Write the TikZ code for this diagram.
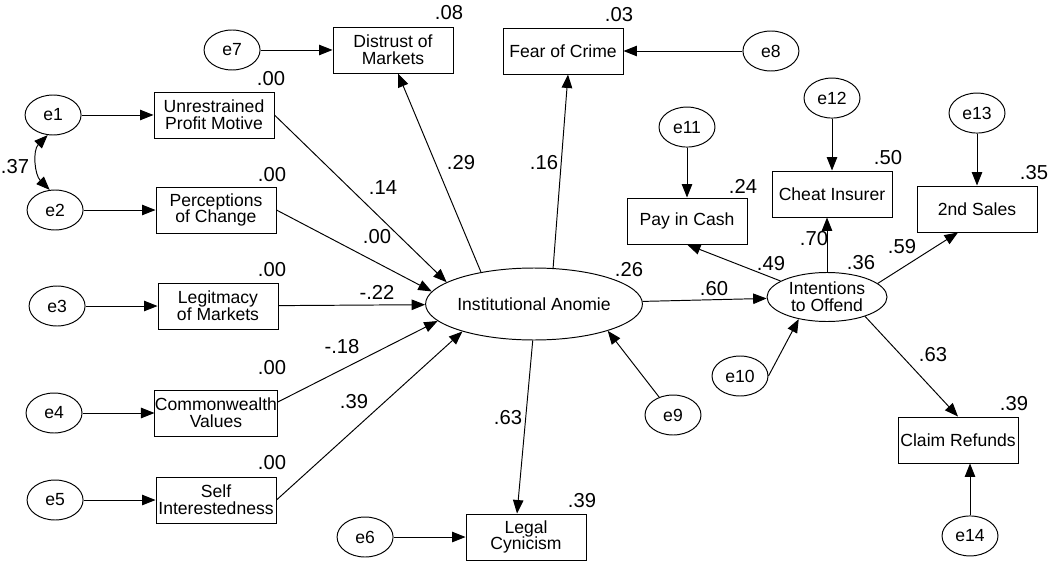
\documentclass[tikz,border=0pt]{standalone}
\usepackage{fontspec}
\setmainfont{Liberation Sans}
\usetikzlibrary{shapes.geometric, arrows.meta, positioning, calc}

\begin{document}
\begin{tikzpicture}[
        x=0.02cm, y=-0.02cm, line width=0.55pt,
        every node/.style={font=\fontsize{10}{9.5}\selectfont},
        obs/.style={rectangle, draw, minimum width=2.4cm, minimum height=0.92cm, align=center, inner xsep=0pt, inner ysep=1pt},
        lat/.style={ellipse, draw, align=center, inner sep=0pt},
        err/.style={ellipse, draw, minimum width=1.12cm, minimum height=0.8cm, inner sep=0pt},
        num/.style={font=\fontsize{11.5}{12}\selectfont, inner sep=0pt},
        arr/.style={-{Triangle[length=2.7mm, width=2.1mm]}},
        cov/.style={{Triangle[length=2.7mm, width=2.1mm]}-{Triangle[length=2.7mm, width=2.1mm]}}
    ]
        \useasboundingbox (0,0) rectangle (1053,564);

        \node[obs] (upm) at (214,115) {Unrestrained\\Profit Motive};
        \node[obs] (poc) at (216,210) {Perceptions\\of Change};
        \node[obs] (lom) at (218,306) {Legitmacy\\of Markets};
        \node[obs] (cwv) at (216,413) {Commonwealth\\Values};
        \node[obs] (sin) at (216,500) {Self\\Interestedness};
        \node[obs] (dom) at (393,50) {Distrust of\\Markets};
        \node[obs] (foc) at (563,51) {Fear of Crime};
        \node[obs] (lcy) at (526,537) {Legal\\Cynicism};
        \node[obs] (pic) at (687,221) {Pay in Cash};
        \node[obs] (chi) at (832,194) {Cheat Insurer};
        \node[obs] (snd) at (977,209) {2nd Sales};
        \node[obs] (clr) at (958,440) {Claim Refunds};

        \node[lat, minimum width=3.86cm, minimum height=1.44cm] (ia) at (534,304) {Institutional Anomie};
        \node[lat, minimum width=2.4cm, minimum height=0.98cm] (ito) at (827,297) {Intentions\\to Offend};

        \node[err, left=1.44cm of upm] (e1) {e1};
        \node[err, left=1.44cm of poc] (e2) {e2};
        \node[err, left=1.44cm of lom] (e3) {e3};
        \node[err, left=1.44cm of cwv] (e4) {e4};
        \node[err, left=1.44cm of sin] (e5) {e5};
        \node[err, left=1.44cm of lcy] (e6) {e6};
        \node[err, left=1.44cm of dom] (e7) {e7};
        \node[err, right=2.38cm of foc] (e8) {e8};
        \node[err] (e9) at (673,415) {e9};
        \node[err] (e10) at (740,376) {e10};
        \node[err, above=1cm of pic] (e11) {e11};
        \node[err, above=1.04cm of chi] (e12) {e12};
        \node[err, above=1.04cm of snd] (e13) {e13};
        \node[err, below=1.04cm of clr, xshift=0.24cm] (e14) {e14};

        \node[num] (r2upm) at (271,79) {.00};
        \node[num] (r2poc) at (272,175) {.00};
        \node[num] (r2lom) at (272,270) {.00};
        \node[num] (r2cwv) at (272,368) {.00};
        \node[num] (r2sin) at (272,463) {.00};
        \node[num] (r2dom) at (449,13) {.08};
        \node[num] (r2foc) at (619,15) {.03};
        \node[num] (r2lcy) at (582,501) {.39};
        \node[num] (r2pic) at (743,186) {.24};
        \node[num] (r2chi) at (888,158) {.50};
        \node[num] (r2snd) at (1034,173) {.35};
        \node[num] (r2clr) at (1014,404) {.39};
        \node[num] (r2ia) at (629,270) {.26};
        \node[num] (r2ito) at (861,263) {.36};

        \node[num] (bupm) at (383,188) {.14};
        \node[num] (bpoc) at (377,237) {.00};
        \node[num] (blom) at (377,292) {-.22};
        \node[num] (bcwv) at (342,347) {-.18};
        \node[num] (bsin) at (354,402) {.39};
        \node[num] (bdom) at (461,163) {.29};
        \node[num] (bfoc) at (544,163) {.16};
        \node[num] (blcy) at (508,418) {.63};
        \node[num] (bito) at (714,289) {.60};
        \node[num] (bpic) at (771,264) {.49};
        \node[num] (bchi) at (814,239) {.70};
        \node[num] (bsnd) at (902,247) {.59};
        \node[num] (bclr) at (933,355) {.63};
        \node[num] (ce12) at (15,167) {.37};

        \draw[arr] (e1) -- (e1 -| upm.west);
        \draw[arr] (e2) -- (e2 -| poc.west);
        \draw[arr] (e3) -- (e3 -| lom.west);
        \draw[arr] (e4) -- (e4 -| cwv.west);
        \draw[arr] (e5) -- (e5 -| sin.west);
        \draw[arr] (e6) -- (e6 -| lcy.west);
        \draw[arr] (e7) -- (e7 -| dom.west);
        \draw[arr] (e8) -- (e8 -| foc.east);
        \draw[arr] (e11) -- (e11 |- pic.north);
        \draw[arr] (e12) -- (e12 |- chi.north);
        \draw[arr] (e13) -- (e13 |- snd.north);
        \draw[arr] (e14) -- (e14 |- clr.south);
        \draw[cov] (e1.255) to[out=225, in=135] (e2.105);

        \draw[arr] (upm.east) -- (ia.166);
        \draw[arr] (poc.east) -- (ia.173);
        \draw[arr] (lom) -- (ia);
        \draw[arr] (cwv.10) -- (ia.190);
        \draw[arr] (sin.east) -- (ia.201);
        \draw[arr] (ia.149) -- ($(dom.south)+(5,0)$);
        \draw[arr] (ia.62) -- ($(foc.south)+(5,0)$);
        \draw[arr] (ia.268) -- ($(lcy.north)+(-9,0)$);
        \draw[arr] (e9) -- (ia.340);
        \draw[arr] (ia) -- (ito);
        \draw[arr] (ito.161) -- (pic.south);
        \draw[arr] (ito.north) -- (ito.north |- chi.south);
        \draw[arr] (ito.15) -- ($(snd.south)+(-19,0)$);
        \draw[arr] (ito.333) -- (clr.north);
        \draw[arr] (e10.east) -- (ito.218);
    \end{tikzpicture}
\end{document}
